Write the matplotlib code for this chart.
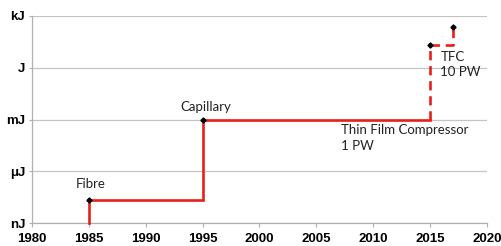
import matplotlib
matplotlib.use("Agg")
import matplotlib.pyplot as plt

# Data (y in "decade-of-thousand" units: nJ=0, μJ=1, mJ=2, J=3, kJ=4)
solid_years = [1985, 1985, 1995, 1995, 2015]
solid_energy = [0.0, 0.44, 0.44, 2.0, 2.0]
dashed_years = [2015, 2015, 2017, 2017]
dashed_energy = [2.0, 3.44, 3.44, 3.78]
point_years = [1985, 1995, 2015, 2017]
point_energy = [0.44, 2.0, 3.44, 3.78]
y_tick_labels = ["nJ", "μJ", "mJ", "J", "kJ"]
x_ticks = [1980, 1985, 1990, 1995, 2000, 2005, 2010, 2015, 2020]

fig = plt.figure(figsize=(5.02, 2.46), dpi=100)
ax = fig.add_axes([0.0637, 0.0923, 0.9063, 0.8427])

red = "#e8201a"
ax.plot(solid_years, solid_energy, color=red, lw=1.9, solid_joinstyle="miter", clip_on=False, zorder=3)
ax.plot(dashed_years, dashed_energy, color=red, lw=1.9, ls=(0, (3.5, 2.2)), clip_on=False, zorder=3)
ax.plot(point_years, point_energy, ls="none", marker="D", ms=2.6, color="black", zorder=4, clip_on=False)

ax.set_xlim(1980, 2020)
ax.set_ylim(0, 4)
ax.set_xticks(x_ticks)
ax.set_yticks(range(len(y_tick_labels)))
ax.set_yticklabels(y_tick_labels)
ax.yaxis.grid(True, color="#c4c4c4", lw=0.9)
ax.set_axisbelow(True)
for s in ["top", "right"]:
    ax.spines[s].set_visible(False)
for s in ["left", "bottom"]:
    ax.spines[s].set_color("#b0b0b0")
    ax.spines[s].set_linewidth(0.9)
ax.tick_params(axis="x", length=3, color="#b0b0b0", pad=4)
ax.tick_params(axis="y", length=2, color="#b0b0b0", pad=3)
for lab in ax.get_xticklabels() + ax.get_yticklabels():
    lab.set_fontfamily("Liberation Sans")
    lab.set_fontweight("bold")
    lab.set_fontsize(9.5)

fs = 9.5
fam = "Lato"
tc = "#222222"
ax.text(1985.2, 0.76, "Fibre", fontsize=fs, family=fam, ha="center", va="center", color=tc)
ax.text(1995.3, 2.25, "Capillary", fontsize=fs, family=fam, ha="center", va="center", color=tc)
ax.text(2007.15, 1.80, "Thin Film Compressor", fontsize=fs, family=fam, ha="left", va="center", color=tc)
ax.text(2007.15, 1.50, "1 PW", fontsize=fs, family=fam, ha="left", va="center", color=tc)
ax.text(2015.9, 3.20, "TFC", fontsize=fs, family=fam, ha="left", va="center", color=tc)
ax.text(2015.9, 2.91, "10 PW", fontsize=fs, family=fam, ha="left", va="center", color=tc)

fig.savefig("out.png", dpi=100)
